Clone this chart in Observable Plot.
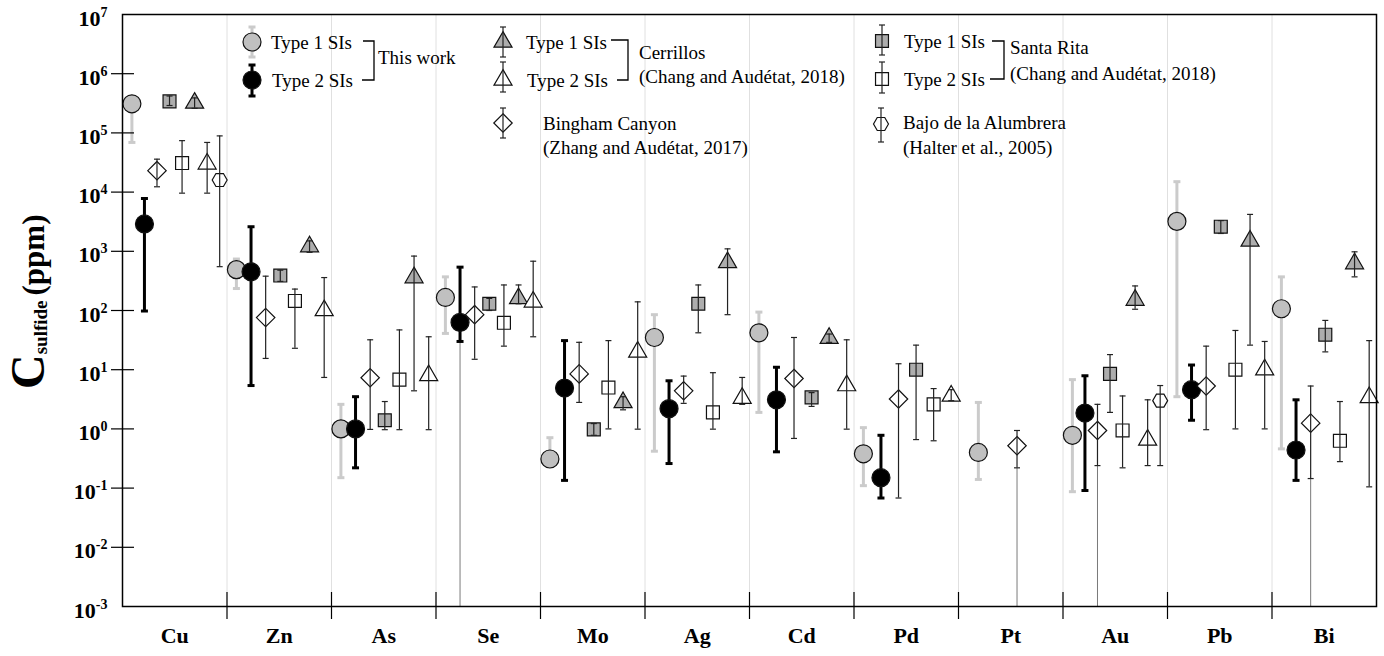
<!DOCTYPE html>
<html>
<head>
<meta charset="utf-8">
<script src="https://cdn.jsdelivr.net/npm/d3@7"></script>
<script src="https://cdn.jsdelivr.net/npm/@observablehq/plot@0.6"></script>
<style>
  body { margin: 0; background: #fff; }
  svg { display: block; }
</style>
</head>
<body>
<div id="chart"></div>
<script>
const FONT = "'Liberation Serif', 'Times New Roman', serif";

// ---------- data ----------
const elements = ["Cu", "Zn", "As", "Se", "Mo", "Ag", "Cd", "Pd", "Pt", "Au", "Pb", "Bi"];
const yTicks = [1e-3, 1e-2, 1e-1, 1e0, 1e1, 1e2, 1e3, 1e4, 1e5, 1e6, 1e7];

// [element, value (ppm), lower, upper]
const thisWorkType1 = [
  ["Cu", 3.1e5, 6.9e4, 3.6e5], ["Zn", 490, 235, 740], ["As", 1.0, 0.15, 2.6], ["Se", 166, 41, 370],
  ["Mo", 0.31, 0.25, 0.71], ["Ag", 35, 0.42, 85], ["Cd", 42, 1.9, 94], ["Pd", 0.38, 0.11, 1.05],
  ["Pt", 0.40, 0.14, 2.8], ["Au", 0.78, 0.087, 6.8], ["Pb", 3200, 3.5, 1.5e4], ["Bi", 107, 0.46, 370]
];
const thisWorkType2 = [
  ["Cu", 2900, 98, 7800], ["Zn", 450, 5.4, 2600], ["As", 1.0, 0.22, 3.5], ["Se", 63, 30, 540],
  ["Mo", 4.9, 0.135, 31], ["Ag", 2.2, 0.26, 6.5], ["Cd", 3.1, 0.41, 11], ["Pd", 0.15, 0.068, 0.78],
  ["Au", 1.85, 0.091, 7.9], ["Pb", 4.6, 1.4, 12], ["Bi", 0.44, 0.135, 3.1]
];
const binghamCanyon = [
  ["Cu", 2.3e4, 1.23e4, 3.6e4], ["Zn", 76, 15.5, 380], ["As", 7.3, 0.98, 32], ["Se", 85, 15, 250],
  ["Mo", 8.5, 2.8, 29], ["Ag", 4.4, 2.7, 7.8], ["Cd", 7.1, 0.69, 35], ["Pd", 3.2, 0.068, 12.6],
  ["Pt", 0.52, 0.22, 0.94], ["Au", 0.94, 0.24, 2.6], ["Pb", 5.3, 0.97, 25], ["Bi", 1.25, 0.145, 5.3]
];
const santaRitaType1 = [
  ["Cu", 3.4e5, 2.9e5, 4.2e5], ["Zn", 390, 310, 480], ["As", 1.4, 0.97, 2.9], ["Se", 130, 100, 160],
  ["Mo", 0.98, 0.78, 1.23], ["Ag", 130, 42, 270], ["Cd", 3.4, 2.4, 4.1], ["Pd", 10, 0.66, 26],
  ["Au", 8.5, 1.9, 18], ["Pb", 2600, 2000, 3300], ["Bi", 39, 20, 68]
];
const santaRitaType2 = [
  ["Cu", 3.1e4, 9.6e3, 7.4e4], ["Zn", 145, 23, 230], ["As", 6.8, 0.97, 47], ["Se", 62, 25, 270],
  ["Mo", 5.0, 1.0, 31], ["Ag", 1.9, 0.99, 8.9], ["Pd", 2.6, 0.63, 4.8], ["Au", 0.94, 0.22, 3.6],
  ["Pb", 10, 1.0, 46], ["Bi", 0.63, 0.28, 2.9]
];
const cerrillosType1 = [
  ["Cu", 3.2e5, 2.6e5, 3.9e5], ["Zn", 1200, 960, 1500], ["As", 360, 4.4, 830], ["Se", 160, 130, 270],
  ["Mo", 2.8, 2.1, 3.5], ["Ag", 650, 85, 1100], ["Cd", 34, 29, 40], ["Au", 150, 105, 260],
  ["Pb", 1500, 26, 4200], ["Bi", 620, 370, 980]
];
const cerrillosType2 = [
  ["Cu", 3.0e4, 9.6e3, 6.9e4], ["Zn", 100, 7.4, 360], ["As", 8.0, 0.97, 36], ["Se", 140, 36, 680],
  ["Mo", 20, 0.99, 140], ["Ag", 3.3, 2.6, 7.4], ["Cd", 5.4, 0.99, 32], ["Pd", 3.6, 3.0, 4.6],
  ["Au", 0.65, 0.24, 3.1], ["Pb", 10, 1.0, 30], ["Bi", 3.4, 0.105, 31]
];
const bajoDeLaAlumbrera = [
  ["Cu", 1.6e4, 550, 8.9e4], ["Au", 3.0, 0.24, 5.4]
];
// ranges whose lower end continues below the axis
const tailToAxis = [["Se", "thisWorkType2"], ["Pt", "bingham"], ["Au", "bingham"], ["Bi", "bingham"]];

// ---------- styles ----------
const hexagon = {
  draw(ctx, size) {
    const r = Math.sqrt(size / (1.5 * Math.sqrt(3)));
    for (let i = 0; i < 6; i++) {
      const a = i * Math.PI / 3, px = r * Math.cos(a), py = r * Math.sin(a);
      if (i) ctx.lineTo(px, py); else ctx.moveTo(px, py);
    }
    ctx.closePath();
  }
};
const capSymbol = hw => ({ draw(ctx) { ctx.moveTo(-hw, 0); ctx.lineTo(hw, 0); } });

const series = [
  { id: "thisWorkType1", data: thisWorkType1, symbol: "circle", r: 9, fill: "#c0c0c0", bar: "#cbcbcb", bw: 3, cap: 3.5, behind: true },
  { id: "thisWorkType2", data: thisWorkType2, symbol: "circle", r: 9, fill: "#000", bar: "#000", bw: 3, cap: 3.5, behind: true },
  { id: "bingham", data: binghamCanyon, symbol: "diamond2", r: 8.3, fill: "#fff", bar: "#222", bw: 1.2, cap: 3 },
  { id: "santaRitaType1", data: santaRitaType1, symbol: "square", r: 7.3, fill: "#adadad", bar: "#222", bw: 1.2, cap: 3 },
  { id: "santaRitaType2", data: santaRitaType2, symbol: "square", r: 7.3, fill: "#fff", bar: "#222", bw: 1.2, cap: 3 },
  { id: "cerrillosType1", data: cerrillosType1, symbol: "triangle", r: 6.7, fill: "#adadad", bar: "#222", bw: 1.2, cap: 3 },
  { id: "cerrillosType2", data: cerrillosType2, symbol: "triangle", r: 6.7, fill: "#fff", bar: "#222", bw: 1.2, cap: 3 },
  { id: "alumbrera", data: bajoDeLaAlumbrera, symbol: hexagon, r: 6.8, fill: "#fff", bar: "#222", bw: 1.2, cap: 3 }
];

// ---------- layout: spread present series across each element's slot ----------
const rows = [];
elements.forEach((el, gi) => {
  const present = series.filter(s => s.data.some(d => d[0] === el));
  const n = present.length;
  const start = n > 2 ? 0.09 : 0.19, spread = n > 2 ? 0.84 : 0.37;
  present.forEach((s, i) => {
    const [, v, lo, hi] = s.data.find(d => d[0] === el);
    rows.push({ el, id: s.id, x: gi + (n > 1 ? start + spread * i / (n - 1) : 0.5), v, lo, hi });
  });
});

const marks = [];
marks.push(Plot.ruleX(d3.range(1, elements.length), { stroke: "#e0e0e0", strokeWidth: 1 }));
const tails = rows
  .filter(r => tailToAxis.some(([e, id]) => e === r.el && id === r.id))
  .map(r => ({ ...r, base: yTicks[0] }));
marks.push(Plot.ruleX(tails, { x: "x", y1: "base", y2: "lo", stroke: "#7a7a7a", strokeWidth: 1 }));

function barMarks(s) {
  const d = rows.filter(r => r.id === s.id);
  const caps = d.flatMap(r => [{ x: r.x, y: r.lo }, { x: r.x, y: r.hi }]);
  return [
    Plot.ruleX(d, { x: "x", y1: "lo", y2: "hi", stroke: s.bar, strokeWidth: s.bw }),
    Plot.dot(caps, { x: "x", y: "y", symbol: capSymbol(s.cap), r: 3, fill: "none", stroke: s.bar, strokeWidth: s.bw })
  ];
}
series.filter(s => s.behind).forEach(s => marks.push(...barMarks(s)));
series.forEach(s => marks.push(Plot.dot(rows.filter(r => r.id === s.id), {
  x: "x", y: "v", symbol: s.symbol, r: s.r, fill: s.fill, stroke: "#111", strokeWidth: 1.2
})));
series.filter(s => !s.behind).forEach(s => marks.push(...barMarks(s)));

marks.push(Plot.frame({ stroke: "#000", strokeWidth: 1.5 }));
marks.push(Plot.axisY(yTicks.slice(1, -1), { tickSize: 23, dx: 12, strokeWidth: 1.2, tickFormat: () => "", label: null }));
marks.push(Plot.axisY(yTicks, {
  tickSize: 0, tickPadding: 15, dy: 4, fontSize: 22, fontWeight: "bold", label: null,
  tickFormat: d => "10^" + Math.round(Math.log10(d))
}));
marks.push(Plot.axisX(d3.range(1, elements.length), { tickSize: 27, dy: -14, strokeWidth: 1.2, tickFormat: () => "", label: null }));
marks.push(Plot.axisX(elements.map((e, i) => i + 0.5), {
  tickSize: 0, tickPadding: 21, fontSize: 22, fontWeight: "bold", label: null,
  tickFormat: d => elements[Math.floor(d)]
}));

const plot = Plot.plot({
  width: 1384, height: 656,
  marginLeft: 122, marginRight: 8, marginTop: 14, marginBottom: 50,
  x: { domain: [0, elements.length], axis: null },
  y: { type: "log", domain: [yTicks[0], yTicks[yTicks.length - 1]], axis: null },
  style: { fontFamily: FONT, background: "#fff", color: "#000" },
  marks
});
document.getElementById("chart").appendChild(plot);

// ---------- post-processing: superscripts, axis title, legend ----------
const svg = d3.select(plot);
svg.selectAll('[aria-label="y-axis tick label"] text').each(function () {
  const t = this.textContent;
  if (!t.includes("^")) return;
  const [b, e] = t.split("^");
  const sel = d3.select(this);
  sel.text(null);
  sel.append("tspan").text(b);
  sel.append("tspan").attr("font-size", 14).attr("dy", -9).text(e);
});

const yt = svg.append("text")
  .attr("transform", "translate(44,389) rotate(-90)")
  .attr("text-anchor", "start")
  .attr("font-family", FONT).attr("font-weight", "bold").attr("fill", "#000");
yt.append("tspan").attr("font-size", 48).text("C");
yt.append("tspan").attr("font-size", 19).attr("dy", 3).text("sulfide");
yt.append("tspan").attr("font-size", 31).attr("dy", -3).attr("dx", 5).text("(ppm)");

const symTypes = { circle: d3.symbolCircle, square: d3.symbolSquare, triangle: d3.symbolTriangle, diamond2: d3.symbolDiamond2 };
const lg = svg.append("g").attr("font-family", FONT).attr("font-size", 19).attr("fill", "#000").attr("text-anchor", "start");
const legendItems = [
  ["thisWorkType1", 252, 42, 27, 57, "Type 1 SIs", 271],
  ["thisWorkType2", 252, 80, 65, 96, "Type 2 SIs", 272],
  ["cerrillosType1", 503, 42, 27, 57, "Type 1 SIs", 526],
  ["cerrillosType2", 503, 80, 62, 92, "Type 2 SIs", 527],
  ["bingham", 503, 123, 108, 138, "Bingham Canyon", 543],
  ["santaRitaType1", 882, 41, 25, 55, "Type 1 SIs", 904],
  ["santaRitaType2", 882, 79, 62, 93, "Type 2 SIs", 904],
  ["alumbrera", 881, 124, 108, 142, "Bajo de la Alumbrera", 903]
];
legendItems.forEach(([id, cx, cy, y1, y2, label, tx]) => {
  const s = series.find(d => d.id === id);
  const bar = () => {
    lg.append("line").attr("x1", cx).attr("x2", cx).attr("y1", y1).attr("y2", y2)
      .attr("stroke", s.bar).attr("stroke-width", s.bw);
    [y1, y2].forEach(y => lg.append("line").attr("x1", cx - s.cap).attr("x2", cx + s.cap)
      .attr("y1", y).attr("y2", y).attr("stroke", s.bar).attr("stroke-width", s.bw));
  };
  if (s.behind) bar();
  const type = typeof s.symbol === "string" ? symTypes[s.symbol] : s.symbol;
  lg.append("path").attr("d", d3.symbol(type, Math.PI * s.r * s.r)())
    .attr("transform", `translate(${cx},${cy})`)
    .attr("fill", s.fill).attr("stroke", "#111").attr("stroke-width", 1.2);
  if (!s.behind) bar();
  lg.append("text").attr("x", tx).attr("y", id === "alumbrera" ? 122 : cy).attr("dy", "0.35em").text(label);
});
const extraText = [
  ["This work", 378, 57], ["Cerrillos", 639, 52], ["(Chang and Audétat, 2018)", 639, 76],
  ["(Zhang and Audétat, 2017)", 543, 147], ["Santa Rita", 1010, 47], ["(Chang and Audétat, 2018)", 1010, 73],
  ["(Halter et al., 2005)", 903, 147]
];
extraText.forEach(([t, x, y]) => lg.append("text").attr("x", x).attr("y", y).attr("dy", "0.35em").text(t));
["M363,41H374V80H362", "M611,40H628V80H617", "M992,41H1004V79H990"].forEach(d =>
  lg.append("path").attr("d", d).attr("fill", "none").attr("stroke", "#000").attr("stroke-width", 1.3));
</script>
</body>
</html>
